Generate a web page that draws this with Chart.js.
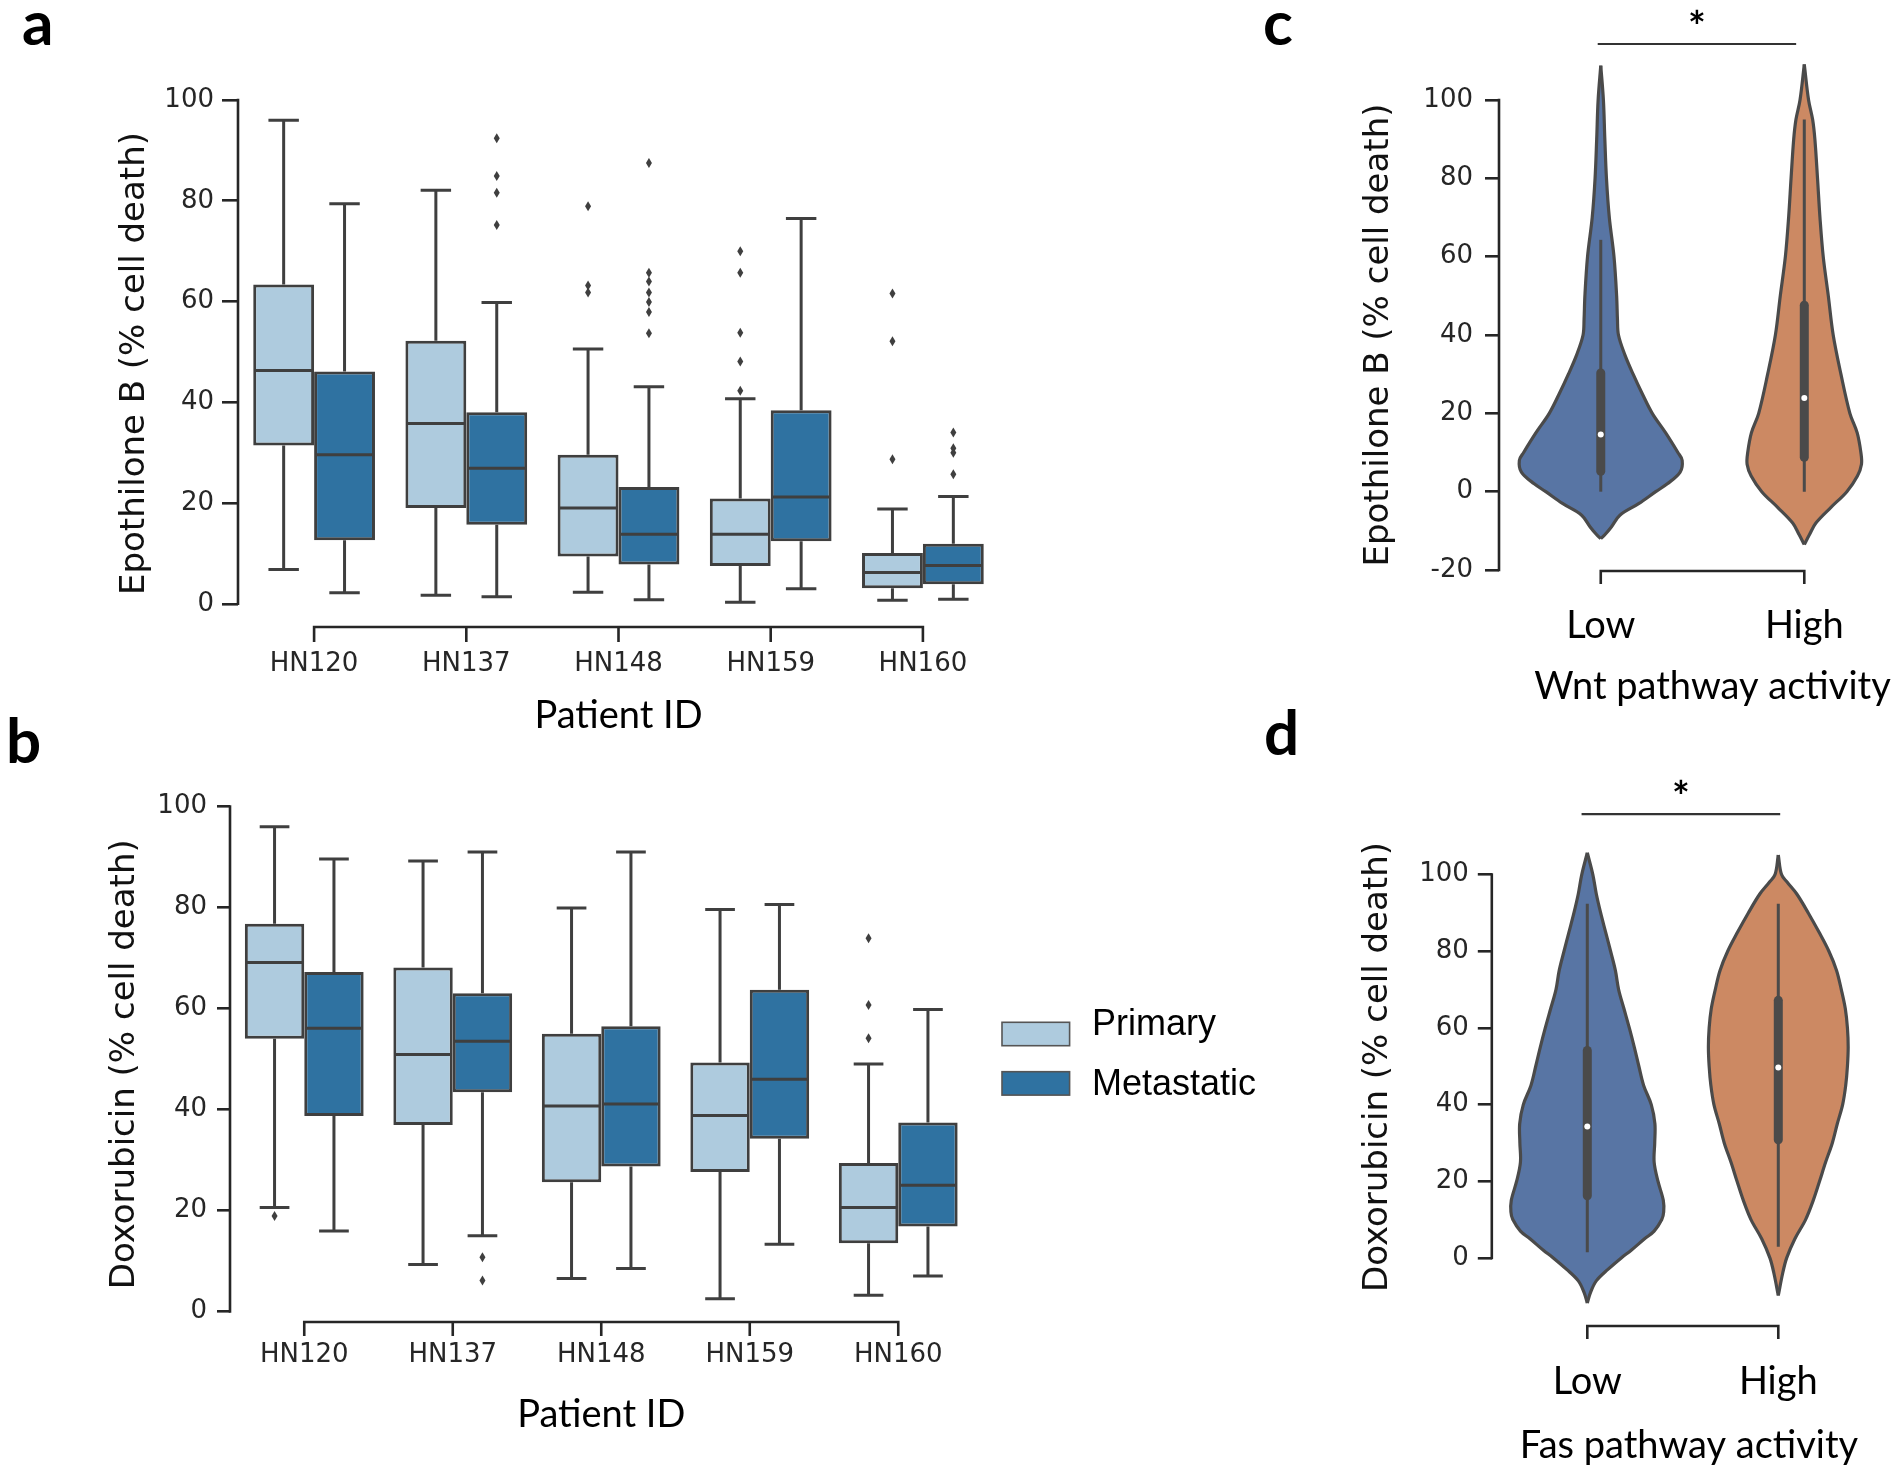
<!DOCTYPE html>
<html>
<head>
<meta charset="utf-8">
<script src="https://cdn.jsdelivr.net/npm/chart.js@4.4.1/dist/chart.umd.min.js"></script>
<style>
  html, body { margin: 0; padding: 0; background: #fff; overflow: hidden; }
  body { width: 1903px; height: 1466px; position: relative; }
  canvas { position: absolute; }
  .panel { position: absolute; font-family: Lato, sans-serif; font-weight: 700; font-size: 62px; line-height: 1; color: #000; }
</style>
</head>
<body>
<canvas id="chartA" width="1010" height="740" style="left:0;top:0"></canvas>
<canvas id="chartB" width="1280" height="726" style="left:0;top:740px"></canvas>
<canvas id="chartC" width="650" height="730" style="left:1280px;top:0"></canvas>
<canvas id="chartD" width="650" height="736" style="left:1280px;top:730px"></canvas>
<div class="panel" style="left:22px;top:-10px">a</div>
<div class="panel" style="left:6px;top:708px">b</div>
<div class="panel" style="left:1263px;top:-10px">c</div>
<div class="panel" style="left:1264px;top:700px">d</div>
<script>
// ---- data ----
const patients = ['HN120', 'HN137', 'HN148', 'HN159', 'HN160'];
const tumourTypes = ['Primary', 'Metastatic'];
const boxTicks = [0, 20, 40, 60, 80, 100];

// each row: [lower whisker, Q1, median, Q3, upper whisker]
const epoPrimary = [
    [6.8, 31.4, 46.3, 63.4, 96.0],
    [1.7, 19.0, 35.8, 52.2, 82.1],
    [2.3, 9.4, 19.0, 29.6, 50.6],
    [0.3, 7.5, 13.8, 20.9, 40.7],
    [0.7, 3.1, 6.2, 10.1, 18.8]
];
const epoMetastatic = [
    [2.2, 12.6, 29.6, 46.1, 79.4],
    [1.4, 15.7, 26.9, 38.0, 59.8],
    [0.8, 7.8, 13.8, 23.2, 43.1],
    [3.0, 12.4, 21.2, 38.4, 76.5],
    [0.9, 3.9, 7.6, 11.9, 21.3]
];
const epoPrimaryOutliers = [[], [], [78.9, 63.2, 61.8], [70.0, 65.7, 53.8, 48.1, 42.3], [61.6, 52.1, 28.7]];
const epoMetastaticOutliers = [[], [92.4, 84.9, 81.6, 75.2], [87.5, 65.7, 64.0, 61.8, 59.9, 57.9, 53.7], [], [34.0, 30.9, 30.0, 25.7]];

const doxPrimary = [
    [20.6, 54.0, 69.1, 76.8, 96.0],
    [9.3, 36.9, 50.9, 68.1, 89.2],
    [6.5, 25.6, 40.7, 55.0, 79.9],
    [2.5, 27.6, 38.8, 49.3, 79.6],
    [3.2, 13.5, 20.6, 29.4, 49.0]
];
const doxMetastatic = [
    [15.9, 38.7, 56.1, 67.2, 89.6],
    [15.0, 43.4, 53.5, 63.0, 91.0],
    [8.5, 28.7, 41.1, 56.5, 91.0],
    [13.3, 34.2, 46.0, 63.7, 80.6],
    [7.0, 16.8, 25.0, 37.4, 59.8]
];
const doxPrimaryOutliers = [[18.9], [], [], [], [73.9, 60.7, 54.1]];
const doxMetastaticOutliers = [[], [10.7, 6.1], [], [], []];

const activityLevels = ['Low', 'High'];
const wntTicks = [-20, 0, 20, 40, 60, 80, 100];
const fasTicks = [0, 20, 40, 60, 80, 100];

// violin outlines: value levels (top to bottom) and half widths in category units
const wntLowY = [108.8, 100, 90, 80, 70, 60, 50, 44, 40, 35, 30, 25, 20, 15, 10, 8, 5, 2, 0, -3, -6, -9, -11, -12];
const wntLowW = [0, 0.013, 0.02, 0.028, 0.042, 0.065, 0.078, 0.082, 0.087, 0.118, 0.159, 0.204, 0.253, 0.319, 0.379, 0.4, 0.39, 0.327, 0.27, 0.188, 0.094, 0.052, 0.02, 0];
const wntHighY = [109.1, 100, 95, 90, 80, 70, 60, 50, 40, 30, 20, 15, 10, 7, 4, 0, -4, -8, -11, -13.5];
const wntHighW = [0, 0.021, 0.041, 0.052, 0.065, 0.077, 0.093, 0.118, 0.142, 0.18, 0.224, 0.26, 0.278, 0.281, 0.261, 0.209, 0.131, 0.057, 0.025, 0];
const fasLowY = [105.7, 100, 95, 90, 85, 80, 75, 70, 65, 60, 55, 50, 45, 40, 35, 30, 25, 20, 15, 12, 10, 7, 5, 2, 0, -3, -6, -9, -11.8];
const fasLowW = [0, 0.029, 0.047, 0.07, 0.096, 0.122, 0.147, 0.164, 0.192, 0.22, 0.246, 0.27, 0.295, 0.335, 0.354, 0.353, 0.35, 0.37, 0.398, 0.4, 0.39, 0.35, 0.3, 0.23, 0.178, 0.108, 0.047, 0.017, 0];
const fasHighY = [105.1, 100, 98, 95, 90, 85, 80, 75, 70, 65, 60, 55, 50, 45, 40, 35, 30, 25, 20, 15, 10, 5, 0, -4, -9.8];
const fasHighW = [0, 0.017, 0.047, 0.096, 0.157, 0.213, 0.265, 0.305, 0.33, 0.351, 0.362, 0.366, 0.362, 0.353, 0.337, 0.309, 0.283, 0.248, 0.216, 0.183, 0.143, 0.087, 0.044, 0.023, 0];

// inner boxes: [lower whisker, Q1, median, Q3, upper whisker]
const wntBox = [[0, 5.2, 14.6, 30.3, 64.3], [0, 8.8, 23.9, 47.6, 95.0]];
const fasBox = [[1.5, 16.2, 34.3, 54.1, 92.4], [2.9, 30.8, 49.7, 67.2, 92.4]];

// ---- styling ----
const boxColors = ['#aecbde', '#2f72a1'];
const violinColors = ['#5875a4', '#cc8963'];
const edgeGray = '#3f3f3f';
const innerGray = '#4a4a4a';
const axisColor = '#262626';
const tickFont = { family: 'DejaVu Sans', size: 26 };
const yTitleFont = { family: 'DejaVu Sans', size: 34 };
const xTitleFont = { family: 'Lato', size: 38 };

// trimmed seaborn-like spines
const axisLines = {
    id: 'axisLines',
    afterDraw(chart, args, o) {
        const { ctx, chartArea, scales: { x, y } } = chart;
        ctx.save();
        ctx.strokeStyle = axisColor;
        ctx.lineWidth = 2.6;
        ctx.beginPath();
        ctx.moveTo(chartArea.left, y.getPixelForValue(o.yFrom) + 1.3);
        ctx.lineTo(chartArea.left, y.getPixelForValue(o.yTo) - 1.3);
        const sy = y.getPixelForValue(o.xAt);
        const n = x.ticks.length;
        ctx.moveTo(x.getPixelForTick(0) - 1.3, sy);
        ctx.lineTo(x.getPixelForTick(n - 1) + 1.3, sy);
        for (let i = 0; i < n; i++) {
            const px = x.getPixelForTick(i);
            ctx.moveTo(px, sy);
            ctx.lineTo(px, sy + o.tickLen);
        }
        ctx.stroke();
        ctx.restore();
    }
};

// whiskers, caps, medians and outliers on top of the floating bars
const boxExtras = {
    id: 'boxExtras',
    afterDatasetsDraw(chart) {
        const { ctx, scales: { y } } = chart;
        const py = v => y.getPixelForValue(v);
        ctx.save();
        ctx.strokeStyle = edgeGray;
        ctx.fillStyle = edgeGray;
        ctx.lineWidth = 3;
        chart.data.datasets.forEach((ds, di) => {
            chart.getDatasetMeta(di).data.forEach((bar, i) => {
                const [lo, q1, med, q3, hi] = ds.stats[i];
                const cx = bar.x, half = bar.width / 2;
                ctx.beginPath();
                ctx.moveTo(cx, py(q3)); ctx.lineTo(cx, py(hi));
                ctx.moveTo(cx, py(q1)); ctx.lineTo(cx, py(lo));
                ctx.moveTo(cx - half / 2, py(hi)); ctx.lineTo(cx + half / 2, py(hi));
                ctx.moveTo(cx - half / 2, py(lo)); ctx.lineTo(cx + half / 2, py(lo));
                ctx.moveTo(cx - half + 1.5, py(med)); ctx.lineTo(cx + half - 1.5, py(med));
                ctx.stroke();
                ds.outliers[i].forEach(v => {
                    const oy = py(v);
                    ctx.beginPath();
                    ctx.moveTo(cx, oy - 5);
                    ctx.lineTo(cx + 3, oy);
                    ctx.lineTo(cx, oy + 5);
                    ctx.lineTo(cx - 3, oy);
                    ctx.closePath();
                    ctx.fill();
                });
            });
        });
        ctx.restore();
    }
};

const legendBoxes = {
    id: 'legendBoxes',
    afterDraw(chart, args, o) {
        const ctx = chart.ctx;
        ctx.save();
        chart.data.datasets.forEach((ds, i) => {
            const top = o.top + i * o.step;
            ctx.fillStyle = ds.backgroundColor;
            ctx.fillRect(o.left, top, o.boxW, o.boxH);
            ctx.strokeStyle = '#555';
            ctx.lineWidth = 1.6;
            ctx.strokeRect(o.left, top, o.boxW, o.boxH);
            ctx.fillStyle = '#000';
            ctx.font = o.font;
            ctx.textBaseline = 'alphabetic';
            ctx.fillText(ds.label, o.textLeft, o.baselines[i]);
        });
        ctx.restore();
    }
};

const sigBar = {
    id: 'sigBar',
    afterDraw(chart, args, o) {
        const { ctx, scales: { x, y } } = chart;
        const py = y.getPixelForValue(o.level);
        const x0 = x.getPixelForValue(o.from), x1 = x.getPixelForValue(o.to);
        ctx.save();
        ctx.strokeStyle = '#333';
        ctx.lineWidth = 2.2;
        ctx.beginPath();
        ctx.moveTo(x0, py);
        ctx.lineTo(x1, py);
        ctx.stroke();
        ctx.fillStyle = '#000';
        ctx.font = 'bold 42px Lato';
        ctx.textAlign = 'center';
        ctx.textBaseline = 'alphabetic';
        ctx.fillText('*', (x0 + x1) / 2, py - 2);
        ctx.restore();
    }
};

function boxChart(id, cfg) {
    const plugins = [boxExtras, axisLines];
    if (cfg.legend) plugins.push(legendBoxes);
    return new Chart(document.getElementById(id), {
        type: 'bar',
        data: {
            labels: patients,
            datasets: cfg.groups.map((g, k) => ({
                label: tumourTypes[k],
                data: g.stats.map(s => [s[1], s[3]]),
                stats: g.stats,
                outliers: g.outliers,
                backgroundColor: boxColors[k],
                borderColor: edgeGray,
                borderWidth: 3,
                borderSkipped: false,
                categoryPercentage: 0.8,
                barPercentage: 1.0
            }))
        },
        options: {
            responsive: false,
            animation: false,
            devicePixelRatio: 1,
            events: [],
            layout: { padding: cfg.padding },
            plugins: {
                legend: { display: false },
                tooltip: { enabled: false },
                axisLines: { yFrom: 0, yTo: 100, xAt: cfg.yMin, tickLen: cfg.xTickLen },
                legendBoxes: cfg.legend
            },
            scales: {
                x: {
                    grid: { display: false, drawTicks: false },
                    border: { display: false },
                    ticks: { font: tickFont, color: axisColor, padding: cfg.xPad, maxRotation: 0 },
                    title: { display: true, text: 'Patient ID', font: xTitleFont, color: '#000', padding: { top: 0, bottom: cfg.xTitlePad } },
                    afterFit: s => { s.height = cfg.xHeight; }
                },
                y: {
                    min: cfg.yMin,
                    max: 100,
                    bounds: 'data',
                    afterBuildTicks: s => { s.ticks = boxTicks.map(v => ({ value: v })); },
                    grid: { drawOnChartArea: false, drawTicks: true, tickLength: cfg.yTickLen, color: axisColor, lineWidth: 2.6 },
                    border: { display: false },
                    ticks: { font: tickFont, color: axisColor, padding: cfg.yPad },
                    title: { display: true, text: cfg.yTitle, font: yTitleFont, color: '#111', padding: { top: cfg.yTitlePad, bottom: 0 } },
                    afterFit: s => { s.width = cfg.yWidth; }
                }
            }
        },
        plugins: plugins
    });
}

function violinChart(id, cfg) {
    const datasets = [];
    cfg.box.forEach((b, k) => {
        const [lo, q1, med, q3, hi] = b;
        datasets.push({ data: [{ x: k, y: med }], pointRadius: 3, pointBackgroundColor: '#fff', pointBorderWidth: 0, order: 0 });
        datasets.push({ data: [{ x: k, y: q1 }, { x: k, y: q3 }], showLine: true, borderColor: innerGray, borderWidth: 9, borderCapStyle: 'round', pointRadius: 0, order: 1 });
        datasets.push({ data: [{ x: k, y: lo }, { x: k, y: hi }], showLine: true, borderColor: innerGray, borderWidth: 3, pointRadius: 0, order: 2 });
    });
    cfg.shapes.forEach((s, k) => {
        // right edge fills across to the left edge that follows it
        datasets.push({
            data: s.y.map((v, i) => ({ x: k + s.w[i], y: v })),
            showLine: true, tension: 0.35, borderColor: innerGray, borderWidth: 3.2, pointRadius: 0,
            fill: '+1', backgroundColor: violinColors[k], order: 3
        });
        datasets.push({
            data: s.y.map((v, i) => ({ x: k - s.w[i], y: v })),
            showLine: true, tension: 0.35, borderColor: innerGray, borderWidth: 3.2, pointRadius: 0,
            fill: false, order: 3
        });
    });
    return new Chart(document.getElementById(id), {
        type: 'scatter',
        data: { datasets: datasets },
        options: {
            responsive: false,
            animation: false,
            devicePixelRatio: 1,
            events: [],
            indexAxis: 'y',
            layout: { padding: cfg.padding },
            plugins: {
                legend: { display: false },
                tooltip: { enabled: false },
                filler: { drawTime: 'beforeDatasetsDraw' },
                axisLines: { yFrom: cfg.ticks[0], yTo: cfg.ticks[cfg.ticks.length - 1], xAt: cfg.spineAt, tickLen: 13 },
                sigBar: cfg.sig
            },
            scales: {
                x: {
                    type: 'linear',
                    min: -0.5,
                    max: cfg.xMax,
                    bounds: 'data',
                    afterBuildTicks: s => { s.ticks = activityLevels.map((_, i) => ({ value: i })); },
                    grid: { display: false, drawTicks: false },
                    border: { display: false },
                    ticks: { font: xTitleFont, color: '#000', padding: cfg.xPad, callback: (v, i) => activityLevels[i] },
                    title: { display: true, text: cfg.xTitle, font: { family: 'Lato', size: 38, lineHeight: 1 }, color: '#000', padding: { top: 0, bottom: cfg.xTitlePad } },
                    afterFit: s => { s.height = cfg.xHeight; }
                },
                y: {
                    type: 'linear',
                    min: cfg.yMin,
                    max: cfg.yMax,
                    bounds: 'data',
                    afterBuildTicks: s => { s.ticks = cfg.ticks.map(v => ({ value: v })); },
                    grid: { drawOnChartArea: false, drawTicks: true, tickLength: 14, color: axisColor, lineWidth: 2.6 },
                    border: { display: false },
                    ticks: { font: tickFont, color: axisColor, padding: cfg.yPad },
                    title: { display: true, text: cfg.yTitle, font: yTitleFont, color: '#111', padding: { top: cfg.yTitlePad, bottom: 0 } },
                    afterFit: s => { s.width = cfg.yWidth; }
                }
            }
        },
        plugins: [axisLines, sigBar]
    });
}

boxChart('chartA', {
    groups: [
        { stats: epoPrimary, outliers: epoPrimaryOutliers },
        { stats: epoMetastatic, outliers: epoMetastaticOutliers }
    ],
    padding: { left: 0, top: 100, right: 11, bottom: 0 },
    yMin: -4.6, yWidth: 238, yTickLen: 16, yPad: 8, yTitlePad: 115,
    yTitle: 'Epothilone B (% cell death)',
    xHeight: 113, xPad: 22, xTitlePad: 1, xTickLen: 15,
    legend: false
});

boxChart('chartB', {
    groups: [
        { stats: doxPrimary, outliers: doxPrimaryOutliers },
        { stats: doxMetastatic, outliers: doxMetastaticOutliers }
    ],
    padding: { left: 0, top: 66.5, right: 307.5, bottom: 0 },
    yMin: -2.1, yWidth: 230, yTickLen: 13, yPad: 10, yTitlePad: 104.5,
    yTitle: 'Doxorubicin (% cell death)',
    xHeight: 144, xPad: 17.4, xTitlePad: 28, xTickLen: 14,
    legend: { left: 1002, top: 282.3, step: 49.4, boxW: 67.6, boxH: 23.4, textLeft: 1092, baselines: [295, 355], font: '36px "Liberation Sans"' }
});

violinChart('chartC', {
    shapes: [{ y: wntLowY, w: wntLowW }, { y: wntHighY, w: wntHighW }],
    box: wntBox,
    ticks: wntTicks,
    padding: { left: 0, top: 62, right: 3, bottom: 0 },
    xMax: 1.598, yMin: -29.7, yMax: 109.7, spineAt: -20.26,
    yWidth: 219, yPad: 12, yTitlePad: 78.6,
    yTitle: 'Epothilone B (% cell death)',
    xHeight: 122, xPad: -5, xTitlePad: 24, xTitle: 'Wnt pathway activity',
    sig: { from: -0.015, to: 0.96, level: 114.3 }
});

violinChart('chartD', {
    shapes: [{ y: fasLowY, w: fasLowW }, { y: fasHighY, w: fasHighW }],
    box: fasBox,
    ticks: fasTicks,
    padding: { left: 0, top: 98, right: 43.8, bottom: 0 },
    xMax: 1.565, yMin: -12.55, yMax: 112.16, spineAt: -17.77,
    yWidth: 211.8, yPad: 9, yTitlePad: 77.6,
    yTitle: 'Doxorubicin (% cell death)',
    xHeight: 160, xPad: 53, xTitlePad: 1, xTitle: 'Fas pathway activity',
    sig: { from: -0.03, to: 1.01, level: 115.8 }
});
</script>
</body>
</html>
